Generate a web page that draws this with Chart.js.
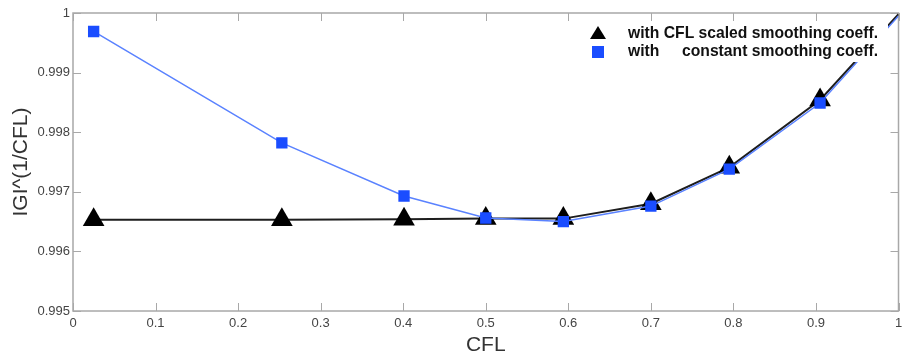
<!DOCTYPE html>
<html>
<head>
<meta charset="utf-8">
<script src="https://cdn.jsdelivr.net/npm/chart.js@4/dist/chart.umd.min.js"></script>
<style>
  html, body { margin: 0; padding: 0; background: #fff; overflow: hidden; }
  #wrap { width: 911px; height: 359px; }
</style>
</head>
<body>
<div id="wrap"><canvas id="cflChart"></canvas></div>
<script>
// values
var cflScaledX = [0.025, 0.253, 0.401, 0.5, 0.594, 0.7, 0.795, 0.905, 1.0];
var cflScaledY = [0.99653, 0.99653, 0.99654, 0.99655, 0.99655, 0.99680, 0.99741, 0.99854, 0.99998];
var constantX = [0.025, 0.253, 0.401, 0.5, 0.594, 0.7, 0.795, 0.905, 1.0];
var constantY = [0.99969, 0.99782, 0.99693, 0.99656, 0.99650, 0.99676, 0.99738, 0.99849, 0.99995];
var seriesNames = ['with CFL scaled smoothing coeff.', 'with     constant smoothing coeff.'];
var xTicks = [0, 0.1, 0.2, 0.3, 0.4, 0.5, 0.6, 0.7, 0.8, 0.9, 1];
var yTicks = [0.995, 0.996, 0.997, 0.998, 0.999, 1];

function toPoints(xs, ys) {
    return xs.map(function (x, i) { return { x: x, y: ys[i] }; });
}

// the last point sits in the corner, hidden in the original
function radii(xs, r) {
    return xs.map(function (x, i) { return i === xs.length - 1 ? 0 : r; });
}

var tickFont = '"Liberation Sans", Arial, sans-serif';

// frame + inward ticks on all four sides
var framePlugin = {
    id: 'frame',
    beforeDatasetsDraw: function (chart) {
        var c = chart.ctx, a = chart.chartArea;
        var xs = chart.scales.x, ys = chart.scales.y;
        c.save();
        c.strokeStyle = '#a8a8a8';
        c.lineWidth = 1.5;
        c.strokeRect(a.left, a.top, a.right - a.left, a.bottom - a.top);
        c.lineWidth = 1;
        c.beginPath();
        xTicks.forEach(function (t) {
            var px = Math.round(xs.getPixelForValue(t)) + 0.5;
            c.moveTo(px, a.bottom); c.lineTo(px, a.bottom - 8);
            c.moveTo(px, a.top); c.lineTo(px, a.top + 8);
        });
        yTicks.forEach(function (t) {
            var py = Math.round(ys.getPixelForValue(t)) + 0.5;
            c.moveTo(a.left, py); c.lineTo(a.left + 8, py);
            c.moveTo(a.right, py); c.lineTo(a.right - 8, py);
        });
        c.stroke();
        c.restore();
    }
};

// legend drawn inside the plot with white background
var legendPlugin = {
    id: 'innerLegend',
    afterDatasetsDraw: function (chart) {
        var c = chart.ctx;
        c.save();
        c.fillStyle = '#fff';
        c.fillRect(588, 22, 300, 40);
        c.fillStyle = '#000';
        c.beginPath();
        c.moveTo(598, 26); c.lineTo(606, 39); c.lineTo(590, 39); c.closePath();
        c.fill();
        c.fillStyle = '#1a4dff';
        c.fillRect(592, 46, 12, 12);
        c.fillStyle = '#111';
        c.font = 'bold 15.7px "Liberation Sans", Arial, sans-serif';
        c.textBaseline = 'middle';
        c.fillText('with CFL scaled smoothing coeff.', 628, 34);
        c.fillText('with', 628, 52);
        c.fillText('constant smoothing coeff.', 682, 52);
        c.restore();
    }
};

var ctx = document.getElementById('cflChart').getContext('2d');

var myChart = new Chart(ctx, {
    type: 'scatter',
    data: {
        datasets: [{
            label: seriesNames[0],
            data: toPoints(cflScaledX, cflScaledY),
            showLine: true,
            borderColor: 'rgba(30, 30, 30, 1)',
            borderWidth: 2,
            pointStyle: 'triangle',
            pointRadius: radii(cflScaledX, 12.5),
            pointHoverRadius: radii(cflScaledX, 12.5),
            pointBackgroundColor: '#000',
            pointBorderColor: '#000',
            pointBorderWidth: 0,
            order: 2
        }, {
            label: seriesNames[1],
            data: toPoints(constantX, constantY),
            showLine: true,
            borderColor: 'rgba(90, 130, 255, 1)',
            borderWidth: 1.5,
            pointStyle: 'rect',
            pointRadius: radii(constantX, 8),
            pointHoverRadius: radii(constantX, 8),
            pointBackgroundColor: '#1a4dff',
            pointBorderColor: '#1a4dff',
            pointBorderWidth: 0,
            order: 1
        }]
    },
    options: {
        responsive: true,
        maintainAspectRatio: false,
        animation: false,
        layout: { padding: { left: 0, right: 0, top: 13, bottom: 0 } },
        plugins: {
            legend: { display: false },
            tooltip: { enabled: false }
        },
        scales: {
            x: {
                type: 'linear',
                min: 0,
                max: 1,
                afterFit: function (s) { s.height = 48; },
                afterBuildTicks: function (s) { s.ticks = xTicks.map(function (v) { return { value: v }; }); },
                grid: { display: false, drawTicks: false, tickLength: 0 },
                border: { display: false },
                ticks: {
                    color: '#444',
                    font: { family: tickFont, size: 13 },
                    padding: 5,
                    maxRotation: 0,
                    callback: function (v) { return String(v); }
                },
                title: {
                    display: true,
                    text: 'CFL',
                    color: '#333',
                    font: { family: tickFont, size: 21 },
                    padding: { top: 0, bottom: 1 }
                }
            },
            y: {
                type: 'linear',
                min: 0.995,
                max: 1,
                afterFit: function (s) { s.width = 73; },
                afterBuildTicks: function (s) { s.ticks = yTicks.map(function (v) { return { value: v }; }); },
                grid: { display: false, drawTicks: false, tickLength: 0 },
                border: { display: false },
                ticks: {
                    color: '#444',
                    font: { family: tickFont, size: 13 },
                    padding: 3,
                    callback: function (v) { return String(Math.round(v * 1000) / 1000); }
                },
                title: {
                    display: true,
                    text: 'IGI^(1/CFL)',
                    color: '#333',
                    font: { family: tickFont, size: 21 },
                    padding: { top: 9, bottom: 0 }
                }
            }
        }
    },
    plugins: [framePlugin, legendPlugin]
});
</script>
</body>
</html>
